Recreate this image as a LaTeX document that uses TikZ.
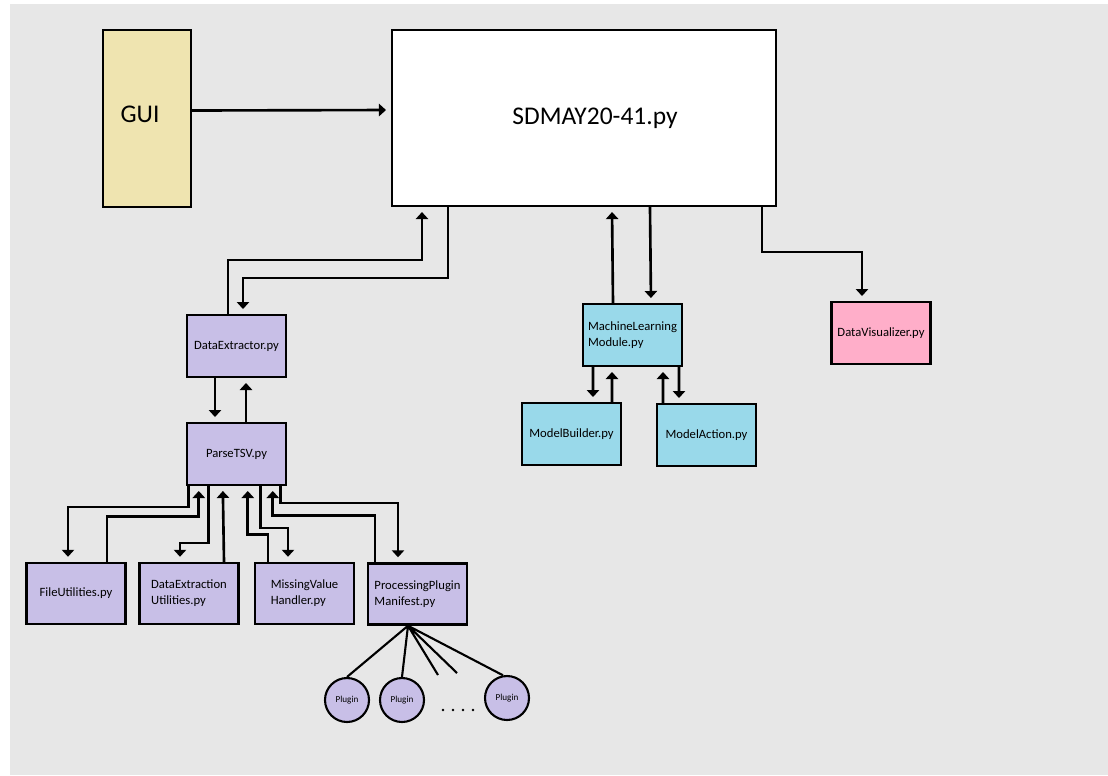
\documentclass[tikz,border=0pt]{standalone}
\usepackage{fontspec}
\setmainfont{Carlito}
\usetikzlibrary{arrows.meta,calc}
\definecolor{bggray}{HTML}{E7E7E7}
\definecolor{lav}{HTML}{C8BFE7}
\definecolor{sky}{HTML}{99D9EA}
\definecolor{rose}{HTML}{FFAEC9}
\definecolor{sand}{HTML}{EFE4B0}

\begin{document}
\begin{tikzpicture}[x=0.02cm,y=-0.02cm,
  box/.style={draw,line width=1.4pt,fill=lav,minimum width=1.98cm,minimum height=1.23cm,inner sep=1pt,align=left,font=\fontsize{7.2}{9.1}\selectfont},
  big/.style={font=\fontsize{14.5}{17}\selectfont},
  plug/.style={draw,circle,line width=1.2pt,fill=lav,minimum size=0.88cm,inner sep=0pt,font=\fontsize{5.2}{6}\selectfont},
  link/.style={line width=1.5pt},
  arr/.style={link,-{Triangle[length=4pt,width=7pt]},shorten >=0.1cm}]
\useasboundingbox (0,0) rectangle (1108,775);
\fill[bggray] (10,4) rectangle (1108,775);
\node[box,big,fill=sand,minimum width=1.76cm,minimum height=3.54cm,text depth=0.18cm] (gui) at (147,118.5) {GUI\hspace{0.28cm}};
\node[box,big,fill=white,line width=1.2pt,minimum width=7.68cm,minimum height=3.52cm] (main) at (584,118) {\hspace{0.44cm}SDMAY20-41.py};
\node[box] (dex) at (236.5,346) {DataExtractor.py};
\node[box] (ptsv) at (236.5,454) {ParseTSV.py};
\node[box,minimum height=1.22cm] (futil) at (76,593.5) {FileUtilities.py};
\node[box,minimum height=1.22cm] (deu) at (189,593.5) {DataExtraction\\Utilities.py};
\node[box,minimum height=1.22cm] (mvh) at (304.5,593.5) {MissingValue\\Handler.py};
\node[box,minimum height=1.22cm] (ppm) at (417.5,594) {ProcessingPlugin\\Manifest.py};
\node[box,fill=sky] (mlm) at (632.5,335) {MachineLearning\\Module.py};
\node[box,fill=sky] (mbuild) at (571.5,434) {ModelBuilder.py};
\node[box,fill=sky] (mact) at (706.5,435) {ModelAction.py};
\node[box,fill=rose] (dvis) at (881,333) {DataVisualizer.py};
\foreach \n/\x/\y in {plugA/347/700,plugB/402/700,plugC/507/698}
  \node[plug] (\n) at (\x,\y) {Plugin};

\draw[arr] ($(gui.east)+(0,-8)$) -- ($(main.west)+(0,-8)$);
\draw[arr] ($(dex.north)+(-8.5,0)$) -- ++(0,-54) -| ($(main.south west)+(31,0)$);
\draw[arr] ($(main.south west)+(57,0)$) -- ++(0,71) -| ($(dex.north)+(6.5,0)$);
\draw[arr] ($(dex.south)+(-21.5,0)$) -- ($(ptsv.north)+(-21.5,0)$);
\draw[arr] ($(ptsv.north)+(9.5,0)$) -- ($(dex.south)+(9.5,0)$);

\draw[arr] ($(ptsv.south west)+(3,0)$) -- ++(0,21) -| ($(futil.north)+(-8,0)$);
\draw[arr] ($(futil.north)+(31,0)$) -- ++(0,-45) -| ($(ptsv.south west)+(13,0)$);
\draw[arr] ($(ptsv.south west)+(23,0)$) -- ++(0,57) -| ($(deu.north)+(-9,0)$);
\draw[arr] ($(deu.north)+(35,0)$) -- ($(ptsv.south west)+(37,0)$);
\draw[arr] ($(mvh.north)+(-36.5,0)$) -- ++(0,-27) -| ($(ptsv.south west)+(62,0)$);
\draw[arr] ($(ptsv.south west)+(75,0)$) -- ++(0,42) -| ($(mvh.north)+(-16.5,0)$);
\draw[arr] ($(ppm.north)+(-42.5,0)$) -- ++(0,-47) -| ($(ptsv.south west)+(87,0)$);
\draw[arr] ($(ptsv.south west)+(95,0)$) -- ++(0,17) -| ($(ppm.north)+(-19.5,0)$);

\draw[arr] ($(mlm.north)+(-19.5,0)$) -- ($(main.south west)+(221,0)$);
\draw[arr] ($(main.south west)+(259,0)$) -- ($(mlm.north)+(18.5,0)$);
\draw[arr] ($(mlm.south)+(-39.5,0)$) -- ($(mbuild.north)+(21.5,0)$);
\draw[arr] ($(mbuild.north)+(40.5,0)$) -- ($(mlm.south)+(-20.5,0)$);
\draw[arr] ($(mact.north)+(-43.5,0)$) -- ($(mlm.south)+(30.5,0)$);
\draw[arr] ($(mlm.south)+(46.5,0)$) -- ($(mact.north)+(-27.5,0)$);
\draw[arr] ($(main.south west)+(371,0)$) -- ++(0,45) -| ($(dvis.north)+(-19,0)$);

\coordinate (hub) at ($(ppm.south)+(-9.5,0)$);
\coordinate (stubA) at (438,675);
\coordinate (stubB) at (457,673);
\draw[link,line width=1.2pt] (hub) -- (plugA.north) (hub) -- (plugB.north) (hub) -- (stubA) (hub) -- (stubB) (hub) -- (plugC.100);
\foreach \x in {443,453,463,473} \fill (\x,710) circle (1.3);
\end{tikzpicture}
\end{document}
